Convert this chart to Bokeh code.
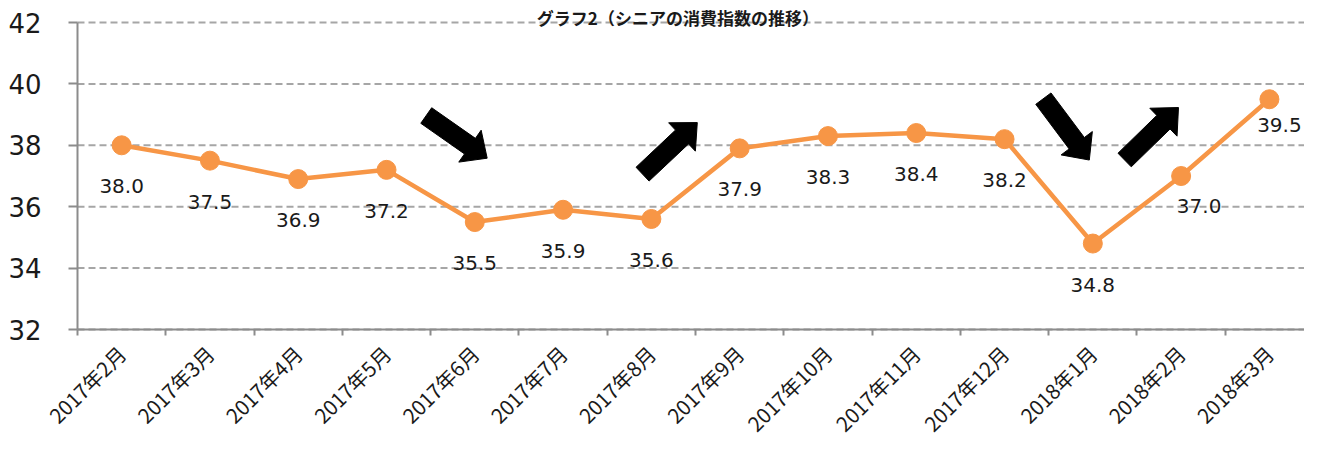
import numpy as np
from bokeh.plotting import figure
from bokeh.models import ColumnDataSource, Range1d, FixedTicker, LabelSet
from bokeh.embed import file_html
from bokeh.resources import INLINE
from bokeh.core.properties import value

# ---- data ----
months = ["2017年2月", "2017年3月", "2017年4月", "2017年5月", "2017年6月", "2017年7月",
          "2017年8月", "2017年9月", "2017年10月", "2017年11月", "2017年12月",
          "2018年1月", "2018年2月", "2018年3月"]
index_values = [38.0, 37.5, 36.9, 37.2, 35.5, 35.9, 35.6, 37.9, 38.3, 38.4, 38.2, 34.8, 37.0, 39.5]
y_ticks = [32, 34, 36, 38, 40, 42]
title_text = "グラフ2（シニアの消費指数の推移）"

# ---- layout / style ----
W, H = 1304, 436
LEFT_PX = 77            # pixel column of the value axis
TOP_PX = 22             # pixel row of the top grid line
PX_Y = 30.7             # pixels per y unit
PX_X = 88.29            # pixels per category
ORANGE = "#F79646"
GREY = "#8C8C8C"
NUM_FONT = "DejaVu Sans"
JP_FONT = "Noto Sans CJK JP"

n = len(months)
xs = list(range(1, n + 1))
ymin, ymax = y_ticks[0], y_ticks[-1]
x_axis_at = 0.5
x_start = x_axis_at - LEFT_PX / PX_X
x_end = x_start + W / PX_X
y_top = ymax + TOP_PX / PX_Y
y_bot = ymax - (H - TOP_PX) / PX_Y

label_dx = [0] * n
label_dy = [-41] * n
label_dx[12], label_dy[12] = 18, -30
label_dx[13], label_dy[13] = 10, -26

src = ColumnDataSource(dict(
    x=xs, y=index_values,
    txt=[f"{v:.1f}" for v in index_values],
    dx=label_dx, dy=label_dy,
))

p = figure(width=W, height=H, x_range=Range1d(x_start, x_end), y_range=Range1d(y_bot, y_top),
           output_backend="svg", toolbar_location=None,
           min_border_left=0, min_border_right=0, min_border_top=0, min_border_bottom=0)
p.outline_line_color = None
p.background_fill_color = "white"
p.border_fill_color = "white"
p.xgrid.visible = False
p.ygrid.visible = False

# dashed value grid, from the value axis to the right edge
p.segment(x0=[x_axis_at] * len(y_ticks), y0=y_ticks, x1=[x_end] * len(y_ticks), y1=y_ticks,
          line_color="#A6A6A6", line_dash="7 4", line_width=2)

# y axis fixed at the left edge of the first category
ya = p.yaxis[0]
ya.fixed_location = x_axis_at
ya.bounds = (ymin, ymax)
ya.ticker = FixedTicker(ticks=y_ticks)
ya.axis_line_color = GREY
ya.axis_line_width = 2
ya.major_tick_line_color = GREY
ya.major_tick_line_width = 2
ya.major_tick_out = 9
ya.major_tick_in = 0
ya.minor_tick_line_color = None
ya.major_label_text_font = NUM_FONT
ya.major_label_text_font_size = "26px"
ya.major_label_text_color = "#1a1a1a"
ya.major_label_standoff = 27

# x axis fixed at y = 32: labels at category centres, tick marks at boundaries
xa = p.xaxis[0]
xa.fixed_location = ymin
xa.bounds = (x_axis_at, n + 0.5)
xa.ticker = FixedTicker(ticks=xs, minor_ticks=[i + 0.5 for i in range(0, n + 1)])
xa.major_label_overrides = {x: m for x, m in zip(xs, months)}
xa.major_label_orientation = np.pi / 4
xa.major_label_text_font = JP_FONT
xa.major_label_text_font_size = "20.5px"
xa.major_label_text_color = "#1a1a1a"
xa.major_label_standoff = 14
xa.major_tick_line_color = None
xa.major_tick_out = 0
xa.major_tick_in = 0
xa.minor_tick_line_color = GREY
xa.minor_tick_line_width = 2
xa.minor_tick_out = 6
xa.minor_tick_in = 0
xa.axis_line_color = GREY
xa.axis_line_width = 2

# arrows (decorations): tail -> tip in data coordinates
arrows = [
    (4.45, 38.97, 5.14, 37.58),
    (6.90, 37.06, 7.52, 38.74),
    (11.44, 39.52, 11.96, 37.52),
    (12.36, 37.52, 12.97, 39.23),
]
bw, hw, hl = 9.5, 19.5, 21.0
axs, ays = [], []
for tx, ty, hx, hy in arrows:
    t = np.array([tx * PX_X, ty * PX_Y])
    h = np.array([hx * PX_X, hy * PX_Y])
    d = h - t
    u = d / np.linalg.norm(d)
    nv = np.array([-u[1], u[0]])
    b = h - u * hl
    pts = [t + nv * bw, b + nv * bw, b + nv * hw, h, b - nv * hw, b - nv * bw, t - nv * bw]
    axs.append([q[0] / PX_X for q in pts])
    ays.append([q[1] / PX_Y for q in pts])
p.patches(axs, ays, fill_color="black", line_color="black", line_width=1)

# series
p.line("x", "y", source=src, line_color=ORANGE, line_width=4.5)
p.scatter("x", "y", source=src, size=19, fill_color=ORANGE, line_color=ORANGE)

labels = LabelSet(x="x", y="y", text="txt", source=src, x_offset="dx", y_offset="dy",
                  text_align="center", text_baseline="middle",
                  text_font=value(NUM_FONT), text_font_size="20px", text_color="#1a1a1a")
p.add_layout(labels)

# title at the top edge
p.text(x=[(n + 1) / 2 - 0.2], y=[ymax + 5 / PX_Y], text=[title_text],
       text_align="center", text_baseline="alphabetic",
       text_font=value(JP_FONT), text_font_size="17px", text_font_style="bold",
       text_color="#1a1a1a")

open("out.html", "w").write(file_html(p, INLINE))
